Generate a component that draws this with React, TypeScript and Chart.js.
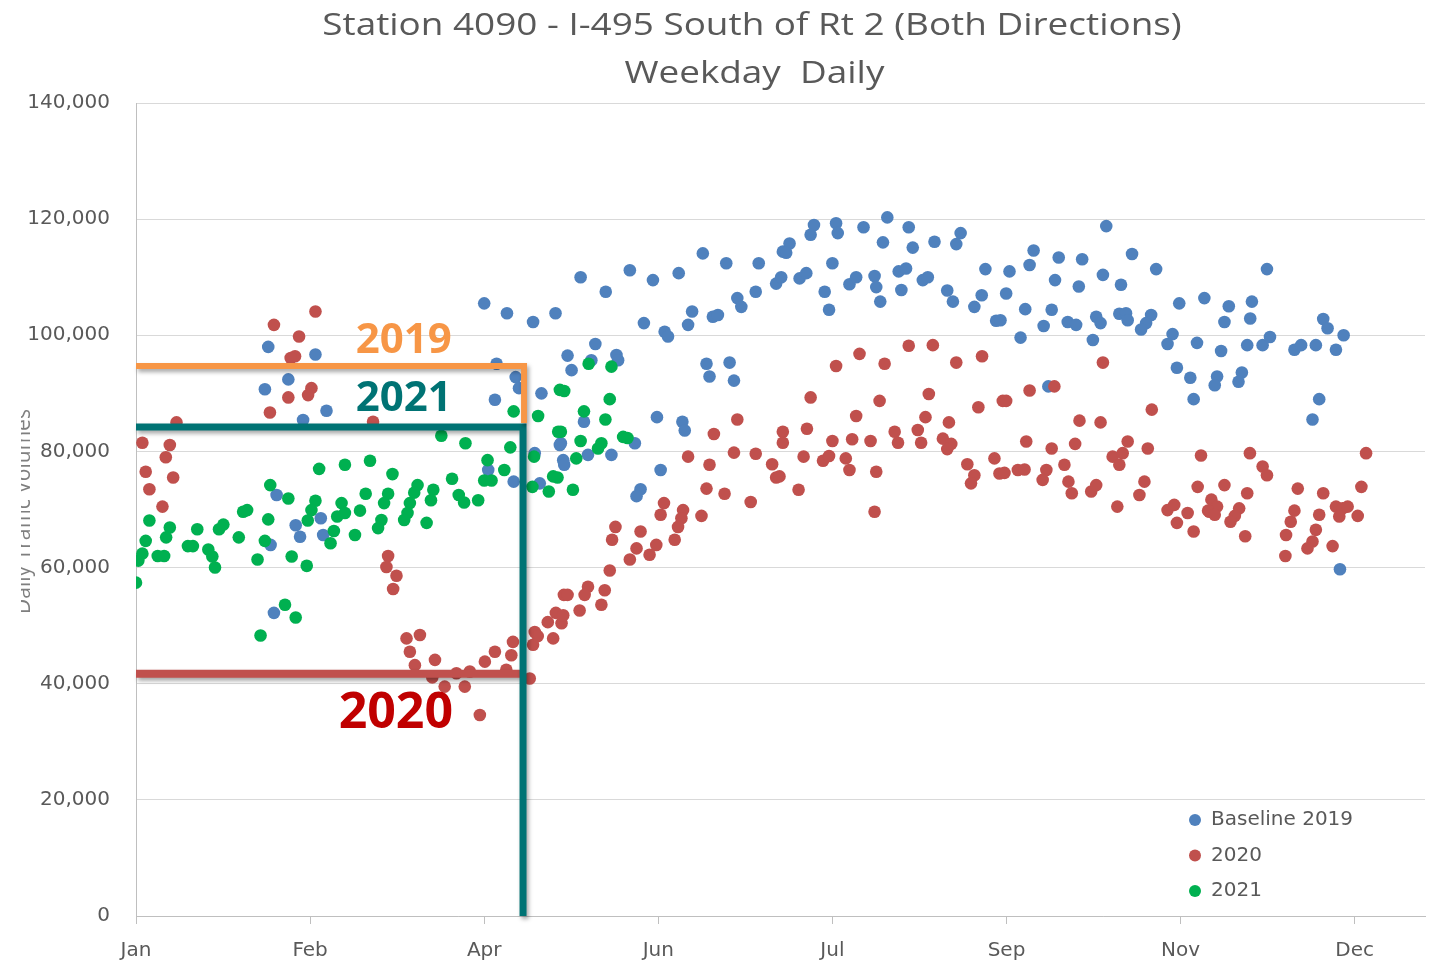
import React, { useEffect, useRef } from 'react';
import { Chart, registerables } from 'chart.js';

Chart.register(...registerables);

// ---- axis definitions ----
const TICK_DAYS = [0, 52, 104, 156, 208, 260, 312, 364];
const TICK_LABELS = ['Jan', 'Feb', 'Apr', 'Jun', 'Jul', 'Sep', 'Nov', 'Dec'];
const X_MAX_DAY = 385;
const Y_MAX = 140000;
const Y_STEP = 20000;

const TITLE_LINE_1 = 'Station 4090 - I-495 South of Rt 2 (Both Directions)';
const TITLE_LINE_2 = 'Weekday  Daily';
const Y_TITLE = 'Daily Traffic Volumes';
const SERIES_NAMES = ['Baseline 2019', '2020', '2021'];
const SERIES_COLORS = ['#4F81BD', '#C0504D', '#00B050'];

// ---- data: [day of year, daily volume] ----
const BASELINE_2019: [number, number][] = [
  [39.5, 98000], [53.6, 96700], [45.5, 92400], [38.5, 90700], [56.9, 87000], [49.9, 85400],
  [42, 72500], [47.7, 67300], [49, 65300], [55.2, 68500], [55.9, 65600], [40.2, 63900], [41.2, 52200],
  [104, 105500], [110.8, 103800], [118.6, 102300], [125.3, 103800], [107.7, 95100], [113.4, 92800],
  [114.4, 90900], [107.2, 88900], [121.1, 90000], [126.6, 81100], [119.1, 79700], [105.2, 76800],
  [112.8, 74800], [120.6, 74500], [127.6, 78500],
  [132.8, 110000], [140.3, 107500], [147.5, 111200], [154.4, 109500], [162.1, 110700], [169.3, 114100],
  [176.3, 112400], [186, 112400], [151.7, 102100], [157.9, 100600], [158.9, 99800], [164.9, 101800],
  [166.1, 104100], [172.3, 103200], [173.8, 103500], [179.6, 106400], [180.8, 104900], [185.1, 107500],
  [191.2, 108900], [193.2, 114400], [137.2, 98500], [128.9, 96500], [130.1, 94000], [143.5, 96600],
  [144, 95700], [136, 95700], [170.4, 95100], [171.3, 92900], [177.3, 95300], [178.6, 92200],
  [133.8, 85100], [155.6, 85900], [163.2, 85100], [163.9, 83600], [126.9, 81400], [135, 79400],
  [142, 79400], [149, 81400], [127.9, 77700], [156.7, 76800], [150.7, 73500], [149.5, 72300],
  [202.5, 119000], [201.5, 117300], [209.1, 119300], [209.6, 117600], [217.3, 118600], [224.4, 120300],
  [230.8, 118600], [223.1, 116000], [232, 115100], [238.5, 116100], [246.3, 117600], [245, 115700],
  [195.2, 115800], [194.2, 114200], [192.7, 110000], [198.2, 109800], [200.2, 110700], [208, 112400],
  [205.7, 107500], [207, 104400], [213.1, 108800], [215.1, 110000], [220.6, 110200], [221.1, 108300],
  [222.3, 105800], [227.8, 111000], [230, 111500], [228.6, 107800], [235, 109500], [236.5, 110000],
  [242.3, 107700], [244, 105800], [253.7, 111400], [252.6, 106900], [250.4, 104900], [256.9, 102500],
  [289.8, 118800], [268.1, 114600], [266.9, 112100], [275.6, 113400], [282.6, 113100], [297.5, 114000],
  [304.7, 111400], [260.9, 111000], [274.5, 109500], [281.6, 108400], [288.8, 110400], [294.2, 108700],
  [259.9, 107200], [311.6, 105500], [319.1, 106400], [265.6, 104500], [273.5, 104400], [258.2, 102600],
  [271.1, 101600], [278.3, 102300], [280.8, 101800], [286.8, 103200], [288.1, 102100], [293.7, 103700],
  [295.7, 103800], [296.2, 102600], [303.2, 103500], [301.7, 102100], [300.2, 101000], [264.2, 99600],
  [285.8, 99200], [309.6, 100200], [308.1, 98500], [316.9, 98700], [310.9, 94400], [314.9, 92700],
  [315.9, 89000], [272.5, 91200],
  [337.8, 111400], [326.4, 105000], [333.3, 105800], [325.1, 102300], [332.8, 102900], [354.6, 102800],
  [355.9, 101200], [360.7, 100000], [324.1, 97300], [331.9, 98300], [336.5, 98300], [338.7, 99700],
  [346, 97500], [348, 98300], [352.4, 98300], [358.4, 97500], [322.9, 92900], [322.2, 91400],
  [330.3, 93600], [329.3, 92000], [353.4, 89000], [351.4, 85500], [359.6, 59700],
];

const YEAR_2020: [number, number][] = [
  [53.6, 104100], [41.2, 101800], [48.7, 99800], [47.5, 96400], [46.2, 96100], [52.4, 90900],
  [51.4, 89700], [45.5, 89300], [40, 86700], [12.1, 85000], [1.9, 81500], [10.1, 81100], [8.9, 79000],
  [2.9, 76500], [11.1, 75500], [4, 73500], [7.9, 70500],
  [70.8, 85100], [75.3, 62000], [74.8, 60100], [77.8, 58600], [76.8, 56300], [80.8, 47800], [84.8, 48400],
  [81.8, 45500], [89.3, 44100], [104.2, 43800], [107.2, 45500], [112.6, 47200], [112.1, 44900],
  [119.1, 48900], [118.6, 46700], [124.6, 47800], [127.1, 50400], [127.8, 55300], [83.3, 43200],
  [88.5, 41100], [92.2, 39500], [95.7, 41800], [98.2, 39500], [99.7, 42100], [102.7, 34600],
  [117.6, 40900], [110.6, 42400], [123, 50600], [125.4, 52200], [120, 48200],
  [179.6, 85500], [172.6, 83000], [193.2, 83400], [164.9, 79100], [171.3, 77700], [178.6, 79800],
  [185.1, 79600], [190, 77800], [191.2, 75500], [170.4, 73600], [175.8, 72700], [183.6, 71300],
  [157.7, 71100], [156.7, 69100], [163.4, 69900], [162.9, 68500], [168.9, 68900], [161.9, 67000],
  [160.9, 64800], [143.2, 67000], [150.7, 66200], [142.2, 64800], [149.5, 63300], [155.4, 63900],
  [153.4, 62200], [147.5, 61400], [141.5, 59500], [135, 56700], [134, 55300], [140, 56100],
  [128.9, 55300], [139, 53600], [132.5, 52600], [127.6, 51800],
  [230.8, 98200], [238, 98300], [216.1, 96800], [209.1, 94700], [223.6, 95100], [245, 95300],
  [252.7, 96400], [201.5, 89300], [222.1, 88700], [236.8, 89900], [251.6, 87600], [258.9, 88700],
  [215.1, 86100], [235.8, 85900], [242.8, 85000], [193.2, 81500], [200.4, 83900], [208, 81800],
  [213.9, 82100], [219.4, 81800], [226.6, 83400], [227.6, 81500], [233.5, 83700], [234.5, 81500],
  [241, 82200], [243.5, 81300], [242.3, 80400], [192.2, 75700], [199.4, 79100], [205.2, 78400],
  [207, 79200], [212, 78800], [213.1, 76800], [221.1, 76500], [197.9, 73400], [220.6, 69600],
  [248.3, 77800], [250.4, 75900], [249.4, 74500], [256.4, 78800], [257.9, 76200],
  [288.8, 95300], [266.9, 90500], [274.3, 91200], [259.9, 88700], [303.4, 87200], [281.8, 85300],
  [288.1, 85000], [265.9, 81700], [273.5, 80500], [280.5, 81300], [296.2, 81700], [302.2, 80500],
  [318.1, 79300], [291.7, 79100], [294.7, 79700], [293.7, 77700], [259.4, 76300], [263.4, 76800],
  [265.4, 76900], [271.9, 76800], [270.8, 75100], [277.3, 77700], [278.5, 74800], [279.5, 72800],
  [285.3, 73100], [286.8, 74200], [293.1, 70500], [301.2, 74800], [299.7, 72500], [308.1, 69900],
  [310.1, 70800], [310.9, 67700], [314.1, 69400], [315.9, 66200], [317.1, 73900], [320.6, 69600],
  [332.7, 79700], [367.4, 79700], [336.5, 77400], [337.8, 75900], [325.1, 74200], [331.9, 72800],
  [347, 73600], [354.6, 72800], [366, 73900], [321.2, 71700], [322.9, 70500], [320.2, 69800],
  [322.2, 69100], [329.5, 70200], [328.2, 68900], [326.9, 67900], [346, 69800], [344.9, 67900],
  [353.4, 69100], [358.4, 70500], [360.4, 70200], [361.9, 70500], [359.4, 68800], [364.9, 68900],
  [331.3, 65400], [343.5, 65600], [352.4, 66500], [351.4, 64500], [349.9, 63300], [357.4, 63700],
  [343.3, 62000],
];

const YEAR_2021: [number, number][] = [
  [0, 57400], [0.7, 61200], [1.9, 62400], [2.9, 64600], [4, 68100], [6.5, 62000], [8.4, 62000],
  [9, 65200], [10.1, 66900], [15.5, 63700], [17, 63700], [18.3, 66600], [21.6, 63100], [22.8, 61900],
  [23.6, 60000], [24.8, 66600], [26.1, 67400], [30.7, 65200], [32, 69600], [33.2, 69900], [36.3, 61400],
  [39.5, 68300], [38.5, 64600], [40.1, 74200], [45.5, 71900], [46.5, 61900], [51, 60300], [54.7, 77000],
  [62.4, 77700], [53.6, 71500], [52.4, 69900], [51.3, 68100], [61.4, 71100], [60.1, 68800],
  [59.1, 66300], [58.1, 64200], [44.5, 53600], [47.7, 51400], [37.2, 48300],
  [112.8, 86900], [120.1, 86100], [126.6, 90600], [126.1, 83400], [91.2, 82700], [98.4, 81400],
  [111.8, 80700], [118.9, 79100], [69.9, 78400], [105, 78500], [110, 76800], [76.6, 76100],
  [94.4, 75300], [104, 75000], [106.2, 75000], [124.6, 75700], [118.4, 73900], [123.3, 73100],
  [84.1, 74200], [88.8, 73400], [96.4, 72500], [102.2, 71600], [98, 71200], [88.1, 71600],
  [83.1, 72900], [75.3, 72700], [68.6, 72700], [66.9, 69800], [62.4, 69400], [74.1, 71100],
  [81.8, 71100], [81.1, 69400], [80.1, 68200], [73.3, 68200], [72.3, 66800], [65.4, 65600], [86.8, 67700],
  [135.2, 95100], [142, 94600], [127.9, 90400], [141.5, 89000], [133.8, 86900], [140.2, 85500],
  [126.9, 83400], [132.8, 81800], [139, 81400], [138, 80500], [145.5, 82500], [146.8, 82300],
  [131.5, 78800], [125.9, 75500], [130.5, 73400],
];

// ---- annotation levels ----
const LEVEL_2019 = 94700;
const LEVEL_2021 = 84200;
const LEVEL_2020 = 41700;
const MARK_DAY = 115.6;
const MARK_LABELS = ['2019', '2021', '2020'];
const MARK_COLORS = ['#F79646', '#007374', '#C0504D'];
const MARK_TEXT_2020 = '#C00000';

const toPoints = (arr: [number, number][]) => arr.map(([x, y]) => ({ x, y }));

const fmt = (v: number) => v.toLocaleString('en-US');

const overlayPlugin = {
  id: 'overlay',
  afterDatasetsDraw(chart: any) {
    const ctx = chart.ctx;
    const xs = chart.scales.x;
    const ys = chart.scales.y;
    const px = (d: number) => xs.getPixelForValue(d);
    const py = (v: number) => ys.getPixelForValue(v);
    ctx.save();
    ctx.shadowColor = 'rgba(0,0,0,0.35)';
    ctx.shadowBlur = 4;
    ctx.shadowOffsetX = 2;
    ctx.shadowOffsetY = 3;
    ctx.lineCap = 'butt';
    ctx.lineJoin = 'miter';
    // 2020 line
    ctx.strokeStyle = MARK_COLORS[2];
    ctx.lineWidth = 8;
    ctx.beginPath();
    ctx.moveTo(px(0), py(LEVEL_2020));
    ctx.lineTo(px(MARK_DAY - 0.6), py(LEVEL_2020));
    ctx.stroke();
    // 2021 line
    ctx.strokeStyle = MARK_COLORS[1];
    ctx.lineWidth = 7;
    ctx.beginPath();
    ctx.moveTo(px(0), py(LEVEL_2021));
    ctx.lineTo(px(MARK_DAY), py(LEVEL_2021));
    ctx.lineTo(px(MARK_DAY), py(0));
    ctx.stroke();
    // 2019 line
    ctx.strokeStyle = MARK_COLORS[0];
    ctx.lineWidth = 6;
    ctx.beginPath();
    ctx.moveTo(px(0), py(LEVEL_2019));
    ctx.lineTo(px(MARK_DAY + 0.3), py(LEVEL_2019));
    ctx.lineTo(px(MARK_DAY + 0.3), py(LEVEL_2021) - 4);
    ctx.stroke();
    ctx.restore();

    // labels
    ctx.save();
    ctx.textAlign = 'center';
    ctx.textBaseline = 'alphabetic';
    const lx = px(80);
    ctx.font = 'bold 42px "Open Sans"';
    ctx.fillStyle = MARK_COLORS[0];
    ctx.fillText(MARK_LABELS[0], lx, py(LEVEL_2019) - 13);
    ctx.fillStyle = MARK_COLORS[1];
    ctx.fillText(MARK_LABELS[1], lx, py(LEVEL_2021) - 16);
    ctx.font = 'bold 50px "Open Sans"';
    ctx.fillStyle = MARK_TEXT_2020;
    ctx.textBaseline = 'top';
    ctx.fillText(MARK_LABELS[2], px(77.6), py(LEVEL_2020) + 15);
    ctx.restore();
  },
  afterDraw(chart: any) {
    const ctx = chart.ctx;
    const area = chart.chartArea;
    // title (slightly widened like the original rendering)
    ctx.save();
    ctx.fillStyle = '#595959';
    ctx.textAlign = 'center';
    ctx.textBaseline = 'alphabetic';
    ctx.font = '31px "Open Sans"';
    ctx.translate(752, 0);
    ctx.scale(1.19, 1);
    ctx.fillText(TITLE_LINE_1, 0, 35);
    ctx.fillText(TITLE_LINE_2, 2, 83);
    ctx.restore();

    // y title (clipped like the original)
    ctx.save();
    ctx.beginPath();
    ctx.rect(21, 0, 200, chart.height);
    ctx.clip();
    ctx.translate(30, (area.top + area.bottom) / 2 + 2);
    ctx.rotate(-Math.PI / 2);
    ctx.fillStyle = '#7F7F7F';
    ctx.textAlign = 'center';
    ctx.textBaseline = 'alphabetic';
    ctx.font = '21px "Open Sans"';
    ctx.fillText(Y_TITLE, 0, 0);
    ctx.restore();

    // legend
    ctx.save();
    ctx.font = '20px "DejaVu Sans"';
    ctx.textAlign = 'left';
    ctx.textBaseline = 'middle';
    SERIES_NAMES.forEach((name, i) => {
      const cy = 820 + i * 35.5;
      ctx.fillStyle = SERIES_COLORS[i];
      ctx.beginPath();
      ctx.arc(1195, cy, 6, 0, Math.PI * 2);
      ctx.fill();
      ctx.fillStyle = '#595959';
      ctx.fillText(name, 1211, cy);
    });
    ctx.restore();
  },
};

export default function App() {
  const ref = useRef<HTMLCanvasElement>(null);
  useEffect(() => {
    if (!ref.current) return;
    const series = [BASELINE_2019, YEAR_2020, YEAR_2021];
    const chart = new Chart(ref.current, {
      type: 'scatter',
      data: {
        datasets: series.map((s, i) => ({
          label: SERIES_NAMES[i],
          data: toPoints(s),
          backgroundColor: SERIES_COLORS[i],
          borderColor: SERIES_COLORS[i],
          borderWidth: 0,
          pointRadius: 6.3,
          order: 3 - i,
        })),
      },
      options: {
        animation: false,
        responsive: false,
        devicePixelRatio: 1,
        layout: { padding: { left: 0, top: 103, right: 12, bottom: 0 } },
        plugins: {
          legend: { display: false },
          title: { display: false },
          tooltip: { enabled: false },
        },
        scales: {
          x: {
            type: 'linear',
            min: 0,
            max: X_MAX_DAY,
            afterBuildTicks: (scale: any) => {
              scale.ticks = TICK_DAYS.map((v) => ({ value: v }));
            },
            afterFit: (scale: any) => {
              scale.height = 47;
            },
            ticks: {
              callback: (v: any) => {
                const idx = TICK_DAYS.indexOf(Number(v));
                return idx >= 0 ? TICK_LABELS[idx] : '';
              },
              color: '#595959',
              font: { family: '"DejaVu Sans"', size: 20 },
              padding: 15,
              maxRotation: 0,
              autoSkip: false,
            },
            grid: {
              drawOnChartArea: false,
              drawTicks: true,
              tickLength: 8,
              color: '#BFBFBF',
            },
            border: { color: '#BFBFBF', width: 1 },
          },
          y: {
            min: 0,
            max: Y_MAX,
            afterFit: (scale: any) => {
              scale.width = 136;
            },
            ticks: {
              stepSize: Y_STEP,
              callback: (v: any) => fmt(Number(v)),
              color: '#595959',
              font: { family: '"DejaVu Sans"', size: 20 },
              padding: 26,
            },
            grid: {
              color: '#D9D9D9',
              drawTicks: false,
            },
            border: { color: '#BFBFBF', width: 1 },
          },
        },
      },
      plugins: [overlayPlugin],
    } as any);
    return () => chart.destroy();
  }, []);
  return (
    <div style={{ position: 'absolute', left: 0, top: 0, width: 1437, height: 963, background: '#fff' }}>
      <canvas ref={ref} width={1437} height={963} style={{ display: 'block' }} />
    </div>
  );
}
